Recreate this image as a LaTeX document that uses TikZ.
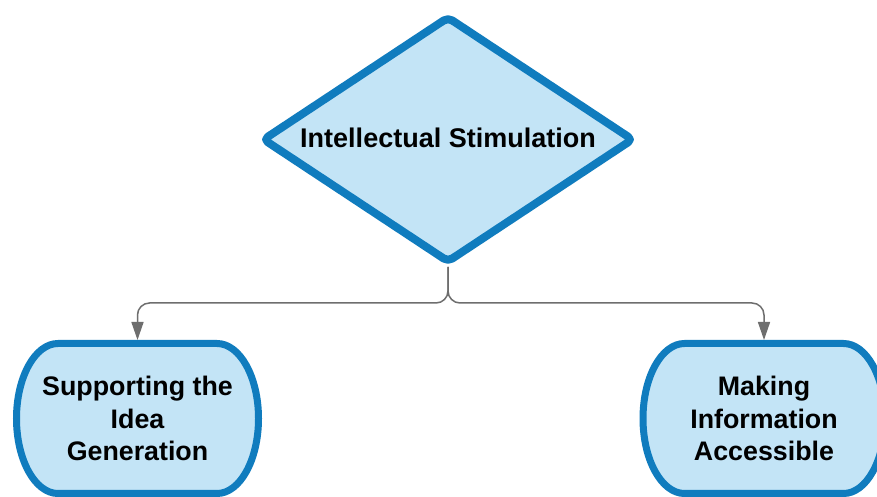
\documentclass[tikz,border=0pt]{standalone}
\usepackage{fontspec}
\setmainfont{Liberation Sans}
\usetikzlibrary{shapes.geometric,arrows.meta,calc,backgrounds}
\definecolor{bordblue}{RGB}{16,124,190}
\definecolor{fillblue}{RGB}{195,228,246}
\definecolor{conngray}{RGB}{110,110,110}
\tikzset{
  decision/.style={diamond, aspect=1.506, draw=bordblue, fill=fillblue, line width=8pt, line join=round,
    rounded corners=5pt, minimum width=372pt, minimum height=247pt, inner sep=0pt,
    font=\bfseries\fontsize{27}{32}\selectfont},
  pilltext/.style={draw=none, minimum width=249pt, minimum height=157pt, inner sep=0pt, outer sep=0pt,
    align=center, font=\bfseries\fontsize{26.8}{32.5}\selectfont},
  pillline/.style={draw=bordblue, fill=fillblue, line width=7pt},
  conn/.style={draw=conngray, line width=1.5pt, rounded corners=12pt,
    -{Triangle[length=18pt,width=12pt,fill=conngray]}},
}
\newcommand{\drawpill}[1]{%
  \begin{scope}[on background layer]
  \path[pillline] ($(#1.north west)+(45,-3.5)$) -- ($(#1.north east)+(-45,-3.5)$)
    arc[start angle=90,end angle=0,x radius=41.5,y radius=75]
    arc[start angle=0,end angle=-90,x radius=41.5,y radius=75]
    -- ($(#1.south west)+(45,3.5)$)
    arc[start angle=-90,end angle=-180,x radius=41.5,y radius=75]
    arc[start angle=180,end angle=90,x radius=41.5,y radius=75]
    -- cycle;
  \end{scope}}
\begin{document}
\begin{tikzpicture}[x=1pt,y=1pt]
  \begin{scope}[on background layer]
    \fill[white] (0,0) rectangle (877,497);
  \end{scope}
  \useasboundingbox (0,0) rectangle (877,497);
  \node[decision] (d) at (448,357.5) {\raisebox{3pt}{Intellectual Stimulation}};
  \node[pilltext] (l) at (137.5,78.5) {Supporting the\\Idea\\Generation};
  \node[pilltext] (r) at (764,78.5) {Making\\Information\\Accessible};
  \drawpill{l}
  \drawpill{r}
  \coordinate (j) at (448,194);
  \draw[conn] (d.south) -- (j) -| (l.north);
  \draw[conn] (d.south) -- (j) -| (r.north);
\end{tikzpicture}
\end{document}
